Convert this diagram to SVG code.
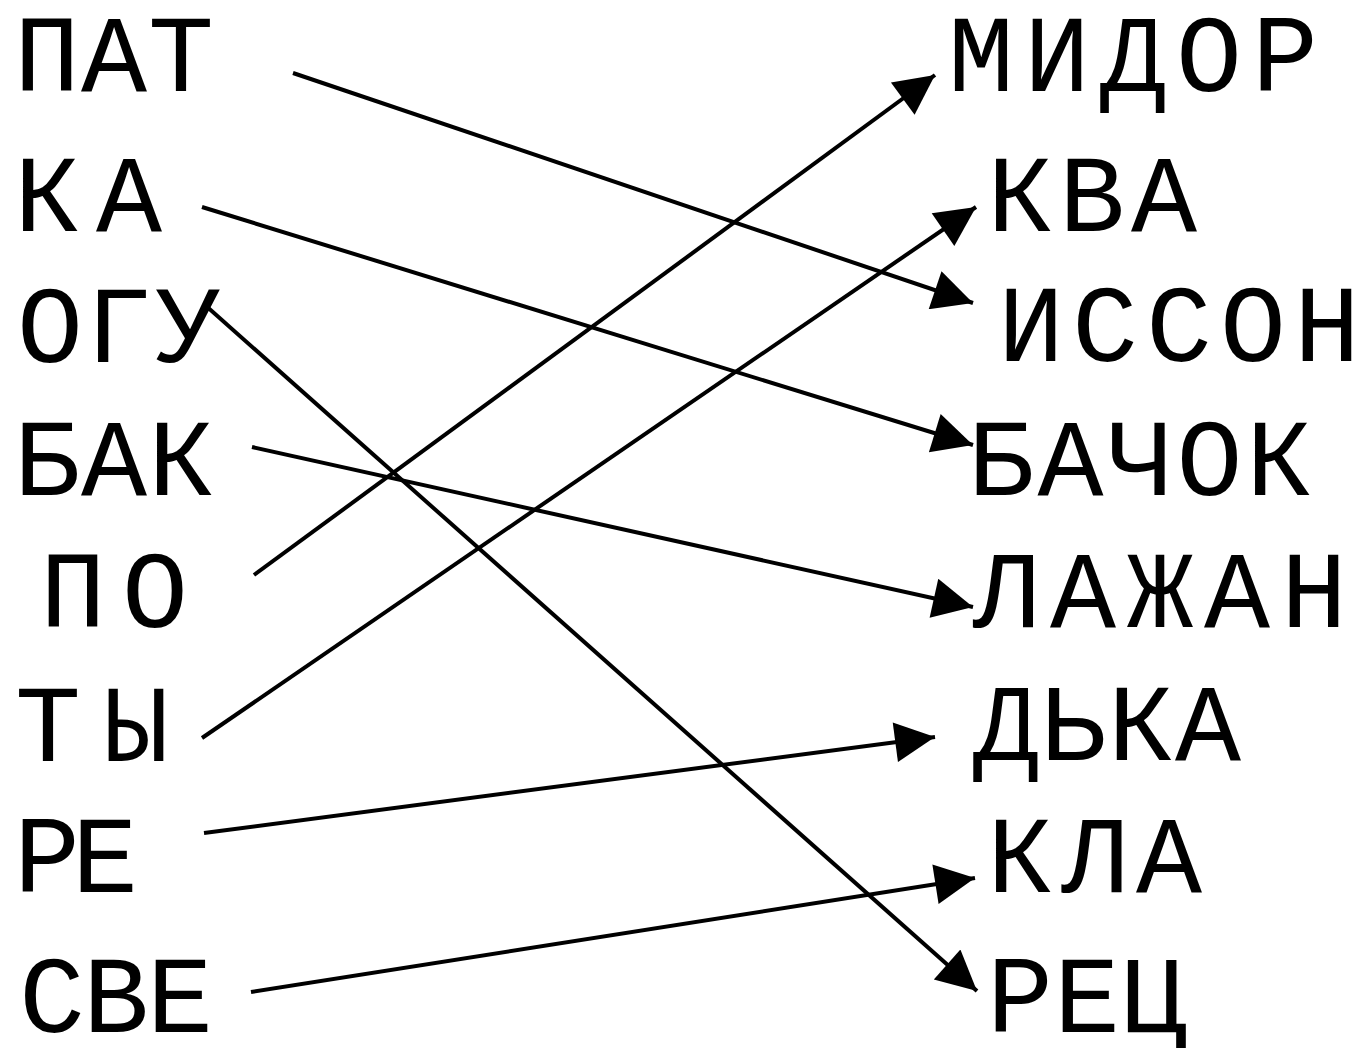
<svg xmlns="http://www.w3.org/2000/svg" width="1370" height="1048" viewBox="0 0 1370 1048">
<style>
text{font-family:"Liberation Mono","Courier New",monospace;font-size:110px;fill:#000}
.c line{stroke:#000;stroke-width:4;marker-end:url(#ah)}
</style>
<defs>
<marker id="ah" viewBox="0 0 10 10" refX="10" refY="5" markerWidth="48" markerHeight="40" markerUnits="userSpaceOnUse" orient="auto">
<path d="M0,0 L10,5 L0,10 z" fill="#000"/>
</marker>
</defs>
<rect width="1370" height="1048" fill="#fff"/>
<g id="l1"><text x="14" y="91" textLength="200" lengthAdjust="spacing">ПАТ</text></g>
<g id="l2"><text x="14" y="231" textLength="148" lengthAdjust="spacing">КА</text></g>
<g id="l3"><text x="17" y="362" textLength="204" lengthAdjust="spacing">ОГУ</text></g>
<g id="l4"><text x="14" y="495" textLength="200" lengthAdjust="spacing">БАК</text></g>
<g id="l5"><text x="40" y="627" textLength="148" lengthAdjust="spacing">ПО</text></g>
<g id="l6"><text x="15" y="761" textLength="154" lengthAdjust="spacing">ТЫ</text></g>
<g id="l7"><text x="14" y="892" textLength="124" lengthAdjust="spacing">РЕ</text></g>
<g id="l8"><text x="19" y="1032" textLength="194" lengthAdjust="spacing">СВЕ</text></g>
<g id="r1"><text x="948" y="91" textLength="370" lengthAdjust="spacing">МИДОР</text></g>
<g id="r2"><text x="987" y="231" textLength="210" lengthAdjust="spacing">КВА</text></g>
<g id="r3"><text x="998" y="361" textLength="362" lengthAdjust="spacing">ИССОН</text></g>
<g id="r4"><text x="968" y="495" textLength="344" lengthAdjust="spacing">БАЧОК</text></g>
<g id="r5"><text x="973" y="627" textLength="374" lengthAdjust="spacing">ЛАЖАН</text></g>
<g id="r6"><text x="973" y="760" textLength="268" lengthAdjust="spacing">ДЬКА</text></g>
<g id="r7"><text x="987" y="892" textLength="215" lengthAdjust="spacing">КЛА</text></g>
<g id="r8"><text x="987" y="1032" textLength="200" lengthAdjust="spacing">РЕЦ</text></g>
<g class="c" id="connectors">
<line x1="293" y1="73" x2="973" y2="303"/>
<line x1="202" y1="207" x2="973" y2="445"/>
<line x1="205" y1="305" x2="977" y2="991"/>
<line x1="252" y1="447" x2="973" y2="607"/>
<line x1="254" y1="575" x2="935" y2="75"/>
<line x1="202" y1="738" x2="976" y2="207"/>
<line x1="204" y1="833" x2="935" y2="737"/>
<line x1="251" y1="992" x2="975" y2="878"/>
</g>
</svg>
